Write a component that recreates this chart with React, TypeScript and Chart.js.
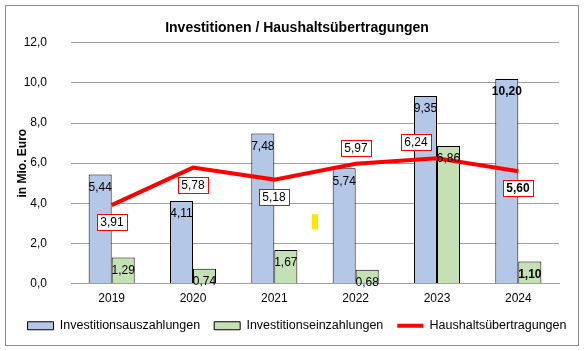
import React, { useEffect, useRef } from 'react';
import { Chart, registerables } from 'chart.js';

Chart.register(...registerables);

// ---- data ----
const categories = ['2019', '2020', '2021', '2022', '2023', '2024'];
const seriesNames = ['Investitionsauszahlungen', 'Investitionseinzahlungen', 'Haushaltsübertragungen'];
const auszahlungen = [5.44, 4.11, 7.48, 5.74, 9.35, 10.2];
const einzahlungen = [1.29, 0.74, 1.67, 0.68, 6.86, 1.1];
const uebertragungen = [3.91, 5.78, 5.18, 5.97, 6.24, 5.6];
const yTickValues = [0, 2, 4, 6, 8, 10, 12];
const chartTitle = 'Investitionen / Haushaltsübertragungen';
const yAxisTitle = 'in Mio. Euro';

// small stray yellow mark in the reference (category index, value range)
const strayMarkIndex = [2.5];
const strayMarkRange = [2.7, 3.45];

// ---- label styling ----
const auszBold = [false, false, false, false, false, true];
const einzBold = [false, false, false, false, false, true];
const lineBold = [false, false, false, false, false, true];
const lineLabelBelow = [true, true, true, false, false, true];
const lineLabelShiftX = [0, 0, 0, 0, -21, 0];

const FONT = '"Liberation Sans", Arial, sans-serif';
const fmt2 = (v: number) => v.toFixed(2).replace('.', ',');
const fmt1 = (v: number) => v.toFixed(1).replace('.', ',');

const overlayPlugin = {
  id: 'overlay',
  beforeDraw(chart: any) {
    const ctx = chart.ctx;
    ctx.save();
    ctx.fillStyle = '#ffffff';
    ctx.fillRect(0, 0, chart.width, chart.height);
    ctx.strokeStyle = '#8c8c8c';
    ctx.lineWidth = 1;
    ctx.strokeRect(5.5, 5.5, 573, 340);
    ctx.restore();
  },
  afterDatasetsDraw(chart: any) {
    const ctx = chart.ctx;
    const xs = chart.scales.x;
    const ys = chart.scales.y;
    ctx.save();
    // stray yellow mark
    const mx = xs.getPixelForValue(strayMarkIndex[0]);
    const y1 = ys.getPixelForValue(strayMarkRange[1]);
    const y2 = ys.getPixelForValue(strayMarkRange[0]);
    ctx.fillStyle = '#ffe600';
    ctx.fillRect(mx - 3, y1, 6, y2 - y1);

    ctx.textAlign = 'center';
    ctx.textBaseline = 'middle';
    ctx.fillStyle = '#000000';
    const barSets = [
      { idx: 0, vals: auszahlungen, bold: auszBold },
      { idx: 1, vals: einzahlungen, bold: einzBold },
    ];
    barSets.forEach(({ idx, vals, bold }) => {
      const meta = chart.getDatasetMeta(idx);
      meta.data.forEach((el: any, i: number) => {
        ctx.font = `${bold[i] ? 'bold ' : ''}12px ${FONT}`;
        ctx.fillText(fmt2(vals[i]), el.x, el.y + 13);
      });
    });

    const lmeta = chart.getDatasetMeta(2);
    lmeta.data.forEach((pt: any, i: number) => {
      const cx = Math.round(pt.x + lineLabelShiftX[i]);
      const cy = Math.round(pt.y + (lineLabelBelow[i] ? 17 : -16));
      const w = 31;
      const h = 17;
      const lx = Math.round(cx - w / 2);
      const ty = Math.round(cy - h / 2);
      ctx.fillStyle = '#ffffff';
      ctx.fillRect(lx, ty, w, h);
      ctx.strokeStyle = '#ff0000';
      ctx.lineWidth = 1;
      ctx.strokeRect(lx + 0.5, ty + 0.5, w - 1, h - 1);
      ctx.fillStyle = '#000000';
      ctx.font = `${lineBold[i] ? 'bold ' : ''}12px ${FONT}`;
      ctx.fillText(fmt2(uebertragungen[i]), cx, cy + 0.5);
    });
    ctx.restore();
  },
};

export default function App() {
  const ref = useRef<HTMLCanvasElement | null>(null);

  useEffect(() => {
    if (!ref.current) return;
    const chart = new Chart(ref.current, {
      type: 'bar',
      data: {
        labels: categories,
        datasets: [
          {
            type: 'bar',
            label: seriesNames[0],
            data: auszahlungen,
            backgroundColor: '#b4c7e7',
            borderColor: '#000000',
            borderWidth: 1,
            pointStyle: 'rect',
            categoryPercentage: 0.566,
            barPercentage: 1.0,
          } as any,
          {
            type: 'bar',
            label: seriesNames[1],
            data: einzahlungen,
            backgroundColor: '#c5e0b4',
            borderColor: '#000000',
            borderWidth: 1,
            pointStyle: 'rect',
            categoryPercentage: 0.566,
            barPercentage: 1.0,
          } as any,
          {
            type: 'line',
            label: seriesNames[2],
            data: uebertragungen,
            borderColor: '#ff0000',
            backgroundColor: '#ff0000',
            borderWidth: 4,
            pointRadius: 0,
            pointStyle: 'line',
            tension: 0,
            order: -1,
          } as any,
        ],
      },
      options: {
        responsive: false,
        animation: false,
        layout: { padding: { left: 9, right: 0, top: 10, bottom: 8 } },
        plugins: {
          tooltip: { enabled: false },
          title: {
            display: true,
            text: chartTitle,
            color: '#000000',
            font: { family: FONT, size: 14, weight: 'bold' },
            padding: { top: 10, bottom: 6 },
          },
          legend: {
            position: 'bottom',
            labels: {
              color: '#000000',
              font: { family: FONT, size: 12.5 },
              boxWidth: 26,
              boxHeight: 8,
              usePointStyle: true,
              pointStyleWidth: 26,
              padding: 14,
              sort: (a: any, b: any) => a.datasetIndex - b.datasetIndex,
            },
          },
        },
        scales: {
          x: {
            grid: { display: false, drawTicks: false },
            border: { display: true, color: '#a0a0a0', width: 1 },
            ticks: { color: '#000000', font: { family: FONT, size: 12 }, padding: 8 },
            afterFit: (s: any) => {
              s.height = 22;
            },
          },
          y: {
            min: 0,
            max: 12,
            afterBuildTicks: (s: any) => {
              s.ticks = yTickValues.map((v) => ({ value: v }));
            },
            grid: { color: '#a0a0a0', drawTicks: false },
            border: { display: false },
            ticks: {
              color: '#000000',
              font: { family: FONT, size: 12 },
              padding: 24,
              callback: (v: any) => fmt1(Number(v)),
            },
            title: {
              display: true,
              text: yAxisTitle,
              color: '#000000',
              font: { family: FONT, size: 12, weight: 'bold' },
              padding: { top: 6, bottom: 0 },
            },
            afterFit: (s: any) => {
              s.width = 62;
            },
          },
          y2: {
            position: 'right',
            display: true,
            grid: { display: false, drawTicks: false },
            border: { display: false },
            ticks: { display: false },
            afterFit: (s: any) => {
              s.width = 26;
            },
          },
        },
      } as any,
      plugins: [overlayPlugin],
    });
    return () => chart.destroy();
  }, []);

  return (
    <div style={{ position: 'absolute', left: 0, top: 0, width: 585, height: 350 }}>
      <canvas ref={ref} width={585} height={350} />
    </div>
  );
}
